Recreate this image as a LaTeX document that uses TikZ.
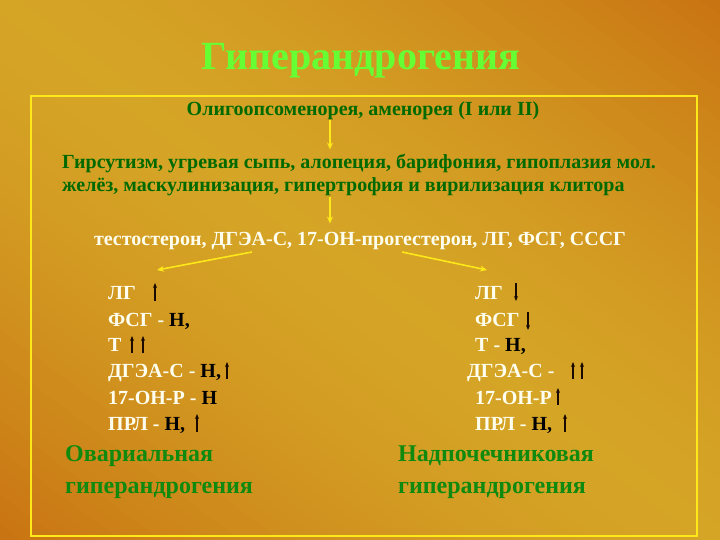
\documentclass[tikz,border=0pt]{standalone}
\usepackage{fontspec}
\setmainfont{Liberation Serif}
\usetikzlibrary{arrows.meta,calc}
\definecolor{bgorange}{HTML}{C97312}
\definecolor{bggold}{HTML}{D5A526}
\definecolor{frameyel}{HTML}{FFE81A}
\definecolor{titlegreen}{HTML}{66FF33}
\definecolor{darkgreen}{HTML}{006A00}
\definecolor{midgreen}{HTML}{0F8A0F}
\definecolor{cream}{HTML}{FFFFF0}
\definecolor{arrdark}{HTML}{1A0A00}
\begin{document}
\begin{tikzpicture}[x=1pt,y=-1pt,
  base/.style={inner sep=0pt, font=\bfseries\fontsize{#1}{#1}\selectfont},
  ttl/.style={base=40, text=titlegreen, anchor=base},
  gtxt/.style={base=20, text=darkgreen, anchor=base west},
  wtxt/.style={base=20, text=cream, anchor=base},
  col/.style={base=20, text=cream, anchor=base west},
  lbl/.style={base=24, text=midgreen, anchor=base west},
  yarr/.style={draw=frameyel, line width=1.6pt, -{Stealth[length=7pt,width=6pt]}},
  sarr/.style={draw=arrdark, line width=1.2pt, -{Stealth[length=5pt,width=4pt]}}]
\useasboundingbox (0,0) rectangle (720,540);
% background: diagonal gradient, orange at top-right and bottom-left corners
\begin{scope}
\clip (0,0) rectangle (720,540);
\foreach \i in {0,...,71} {
  \pgfmathsetmacro{\sa}{-432+\i*12}
  \pgfmathsetmacro{\sb}{\sa+13}
  \pgfmathsetmacro{\sm}{\sa+6}
  \pgfmathsetmacro{\w}{100*(1-(abs(\sm)/432)^1.5)}
  \fill[bggold!\w!bgorange] ({0.6*\sa-80},{-0.8*\sa-60}) -- ({0.6*\sa+800},{-0.8*\sa+600})
     -- ({0.6*\sb+800},{-0.8*\sb+600}) -- ({0.6*\sb-80},{-0.8*\sb-60}) -- cycle;
}
\end{scope}
\draw[frameyel, line width=2pt] (31,96) rectangle (697,536);

\node[ttl] (title) at (361,70) {Гиперандрогения};
\node[gtxt, anchor=base] (olig) at (363,116) {Олигоопсоменорея, аменорея (I или II)};
\node[gtxt] (gir1) at (62,169) {Гирсутизм, угревая сыпь, алопеция, барифония, гипоплазия мол.};
\node[gtxt] (gir2) at (62,192) {желёз, маскулинизация, гипертрофия и вирилизация клитора};
\node[wtxt] (tes) at (360,245) {тестостерон, ДГЭА-С, 17-ОН-прогестерон, ЛГ, ФСГ, СССГ};

\coordinate (ax) at (330,0);
\draw[yarr] (olig.south -| ax) -- ([yshift=5pt]gir1.north -| ax);
\draw[yarr] (gir2.south -| ax) -- ([yshift=8pt]tes.north -| ax);

% left column
\node[col] (l1) at (108,299) {ЛГ};
\node[col] (l2) at (108,326) {ФСГ - {\color{black}Н,}};
\node[col] (l3) at (108,351) {Т};
\node[col] (l4) at (108,377) {ДГЭА-С - {\color{black}Н,}};
\node[col] (l5) at (108,404) {17-ОН-Р - {\color{black}Н}};
\node[col] (l6) at (108,430) {ПРЛ - {\color{black}Н,}};
% right column
\node[col] (r1) at (475,299) {ЛГ};
\node[col] (r2) at (475,326) {ФСГ};
\node[col] (r3) at (475,351) {Т - {\color{black}Н,}};
\node[col] (r4) at (467,377) {ДГЭА-С -};
\node[col] (r5) at (475,404) {17-ОН-Р};
\node[col] (r6) at (475,430) {ПРЛ - {\color{black}Н,}};

\coordinate (tl) at (252,252);
\coordinate (tr) at (402,252);
\coordinate (cl) at (157,270);
\coordinate (cr) at (487,270);
\draw[yarr] (tl) -- (cl);
\draw[yarr] (tr) -- (cr);

% small arrows
\draw[sarr] (155,301) -- (155,283);
\draw[sarr] (132,353) -- (132,336);
\draw[sarr] (143,353) -- (143,336);
\draw[sarr] (227,379) -- (227,362);
\draw[sarr] (197,432) -- (197,414);
\draw[sarr] (516,283) -- (516,301);
\draw[sarr] (528,312) -- (528,330);
\draw[sarr] (573,379) -- (573,362);
\draw[sarr] (582,379) -- (582,362);
\draw[sarr] (558,405) -- (558,388);
\draw[sarr] (565,432) -- (565,414);

\node[lbl] (ov1) at (65,461) {Овариальная};
\node[lbl] (ov2) at (65,493) {гиперандрогения};
\node[lbl] (ad1) at (398,461) {Надпочечниковая};
\node[lbl] (ad2) at (398,493) {гиперандрогения};
\end{tikzpicture}
\end{document}
